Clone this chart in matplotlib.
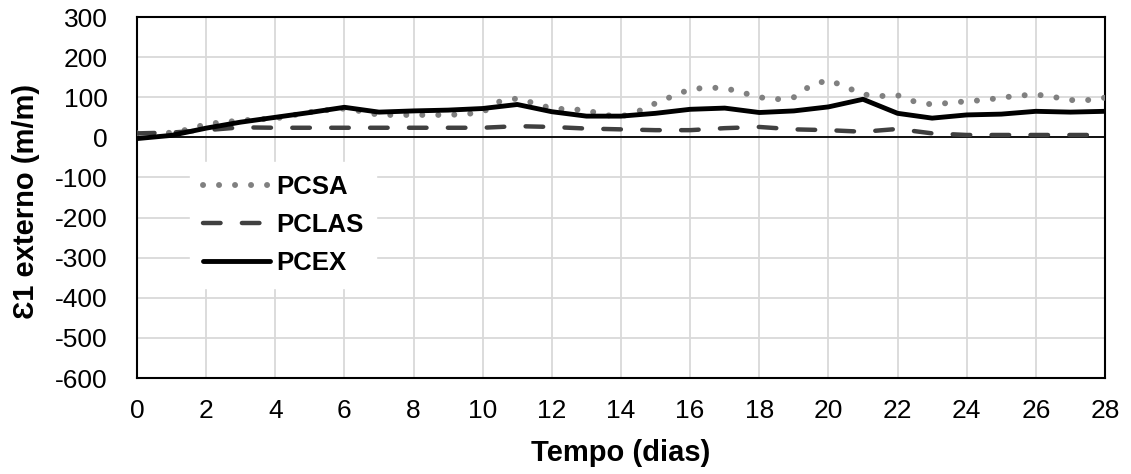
import numpy as np
import matplotlib
matplotlib.use("Agg")
import matplotlib.pyplot as plt

plt.rcParams['font.family'] = ['Liberation Sans', 'DejaVu Sans']
plt.rcParams['axes.unicode_minus'] = False

# daily readings (days 0..28)
dias = np.arange(0, 29)
pcex = [-3, 5, 23, 38, 50, 62, 75, 63, 66, 68, 72, 82, 64, 53, 53, 60, 70,
        73, 62, 66, 76, 95, 60, 48, 56, 58, 65, 63, 65]
pclas = [10, 12, 18, 25, 24, 24, 24, 24, 24, 24, 24, 28, 26, 22, 20, 18, 18,
         23, 26, 20, 18, 14, 21, 10, 6, 6, 6, 6, 6]

# half-day readings (days 0..28 step 0.5)
dias_meio = np.arange(0, 28.5, 0.5)
pcsa = [10, 8, 12, 20, 33, 38, 42, 45, 47, 55, 63, 68, 72, 65, 56, 56, 56, 56,
        56, 58, 63, 90, 97, 85, 72, 70, 68, 56, 52, 65, 85, 103, 120, 124, 123,
        112, 100, 95, 100, 130, 143, 126, 107, 103, 105, 89, 82, 86, 90, 93,
        99, 104, 107, 101, 93, 93, 99]

fig = plt.figure(figsize=(11.31, 4.74), dpi=100)
ax = fig.add_axes([0.1211, 0.2025, 0.8559, 0.7615])

ax.plot(dias_meio, pcsa, color='#808080', lw=4.3, linestyle=(0, (0.01, 2.67)),
        dash_capstyle='round', label='PCSA', zorder=3)
ax.plot(dias, pclas, color='#404040', lw=3.2, linestyle=(0, (3.95, 4.8)),
        dash_capstyle='round', label='PCLAS', zorder=3)
ax.plot(dias, pcex, color='black', lw=3.5, solid_capstyle='round',
        solid_joinstyle='round', label='PCEX', zorder=4)

ax.axhline(0, color='black', lw=1.3, zorder=2)

ax.set_xlim(0, 28)
ax.set_ylim(-600, 300)
ax.set_xticks(np.arange(0, 29, 2))
ax.set_yticks(np.arange(-600, 301, 100))
ax.grid(True, color='#d9d9d9', lw=1.3)
ax.set_axisbelow(True)
ax.tick_params(length=0, labelsize=19)
ax.tick_params(axis='y', pad=21)
ax.tick_params(axis='x', pad=15)
for s in ax.spines.values():
    s.set_color('black')
    s.set_linewidth(1.5)

ax.set_xlabel('Tempo (dias)', fontsize=21, fontweight='bold')
ax.set_ylabel('Ɛ1 externo (m/m)', fontsize=21, fontweight='bold')
ax.xaxis.set_label_coords(0.5, -0.168)
ax.yaxis.set_label_coords(-0.1, 0.49)

leg = ax.legend(loc='upper left', bbox_to_anchor=(0.042, 0.635),
                prop={'size': 18.5, 'weight': 'bold'}, frameon=True,
                handlelength=2.6, handletextpad=0.23, labelspacing=0.55,
                borderpad=0.5, fancybox=False)
leg.get_frame().set_facecolor('white')
leg.get_frame().set_edgecolor('white')
leg.get_frame().set_alpha(1)

fig.savefig('out.png', dpi=100)
